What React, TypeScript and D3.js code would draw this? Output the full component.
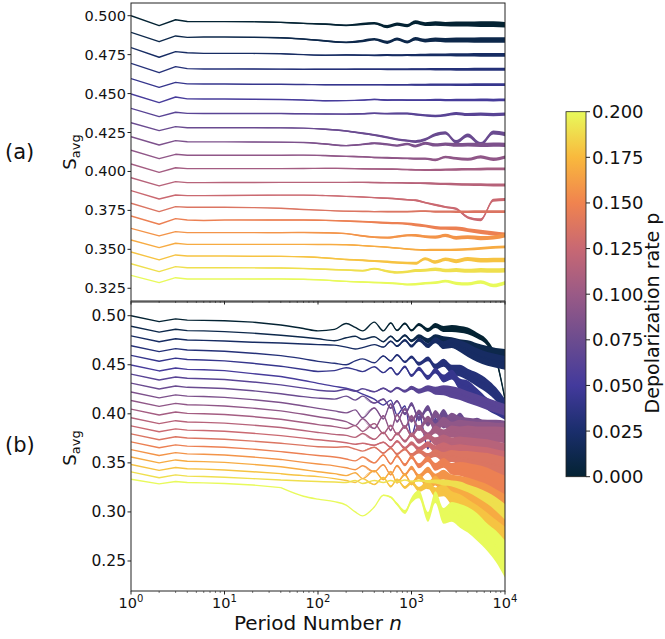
import React from "react";
import * as d3 from "d3";

// ---------- categories ----------
const P_VALUES = [0, 0.0105, 0.0211, 0.0316, 0.0421, 0.0526, 0.0632, 0.0737, 0.0842, 0.0947,
  0.1053, 0.1158, 0.1263, 0.1368, 0.1474, 0.1579, 0.1684, 0.1789, 0.1895, 0.2];

// ---------- panel (a) ----------
const N_A = [1, 2, 3, 4, 6, 10, 20, 40, 70, 120, 200, 300, 400, 550, 700, 900, 1100, 1400, 1800, 2300, 3000, 4000, 5500, 7500, 10000];
const A_00 = [.5000,.4936,.4974,.4963,.4962,.4962,.4961,.4957,.4951,.4946,.4938,.4946,.4952,.4930,.4946,.4936,.4958,.4946,.4950,.4946,.4946,.4946,.4946,.4946,.4942];
const A_01 = [.4893,.4833,.4870,.4861,.4863,.4863,.4862,.4858,.4850,.4838,.4829,.4838,.4848,.4829,.4850,.4831,.4852,.4840,.4846,.4842,.4844,.4844,.4844,.4844,.4844];
const A_02 = [.4795,.4733,.4769,.4762,.4758,.4758,.4758,.4756,.4750,.4746,.4748,.4746,.4745,.4748,.4746,.4748,.4747,.4748,.4748,.4748,.4748,.4748,.4748,.4748,.4748];
const A_03 = [.4694,.4634,.4673,.4660,.4658,.4658,.4658,.4657,.4656,.4656,.4656,.4656,.4656,.4656,.4656,.4656,.4656,.4656,.4656,.4656,.4656,.4656,.4656,.4656,.4656];
const A_04 = [.4596,.4540,.4572,.4562,.4561,.4561,.4560,.4560,.4558,.4557,.4557,.4557,.4557,.4557,.4557,.4557,.4557,.4557,.4557,.4557,.4557,.4557,.4557,.4557,.4557];
const A_05 = [.4497,.4442,.4478,.4466,.4465,.4465,.4464,.4462,.4459,.4454,.4455,.4458,.4462,.4458,.4459,.4458,.4458,.4458,.4459,.4458,.4459,.4458,.4459,.4458,.4459];
const A_06 = [.4405,.4352,.4380,.4373,.4372,.4372,.4372,.4372,.4370,.4369,.4368,.4370,.4374,.4371,.4372,.4372,.4366,.4360,.4356,.4362,.4372,.4365,.4368,.4365,.4368];
const A_07 = [.4313,.4262,.4288,.4281,.4281,.4281,.4281,.4280,.4278,.4271,.4260,.4245,.4234,.4219,.4206,.4198,.4192,.4205,.4236,.4248,.4190,.4232,.4175,.4250,.4240];
const A_08 = [.4223,.4170,.4198,.4191,.4190,.4190,.4189,.4188,.4186,.4176,.4166,.4174,.4181,.4174,.4166,.4176,.4163,.4181,.4170,.4176,.4170,.4172,.4170,.4172,.4170];
const A_09 = [.4136,.4082,.4110,.4104,.4104,.4104,.4104,.4104,.4105,.4102,.4097,.4094,.4090,.4088,.4086,.4084,.4082,.4082,.4074,.4093,.4084,.4078,.4094,.4078,.4092];
const A_10 = [.4048,.3994,.4024,.4018,.4018,.4018,.4018,.4018,.4019,.4020,.4019,.4017,.4016,.4015,.4014,.4012,.4010,.4009,.4010,.4012,.4013,.4014,.4015,.4016,.4016];
const A_11 = [.3960,.3907,.3935,.3928,.3928,.3929,.3929,.3930,.3930,.3930,.3930,.3930,.3929,.3928,.3927,.3926,.3925,.3924,.3922,.3920,.3918,.3916,.3915,.3913,.3913];
const A_12 = [.3877,.3823,.3849,.3845,.3845,.3846,.3847,.3848,.3848,.3845,.3840,.3836,.3832,.3828,.3824,.3818,.3815,.3800,.3785,.3772,.3760,.3705,.3690,.3815,.3820];
const A_13 = [.3796,.3742,.3774,.3770,.3770,.3770,.3768,.3764,.3756,.3750,.3745,.3743,.3742,.3742,.3742,.3742,.3744,.3745,.3742,.3742,.3742,.3742,.3742,.3742,.3742];
const A_14 = [.3714,.3661,.3697,.3688,.3685,.3688,.3688,.3688,.3688,.3686,.3682,.3678,.3674,.3670,.3668,.3664,.3658,.3650,.3640,.3636,.3634,.3624,.3612,.3603,.3595];
const A_15 = [.3635,.3586,.3614,.3607,.3607,.3607,.3607,.3607,.3608,.3606,.3601,.3586,.3578,.3575,.3582,.3590,.3590,.3582,.3578,.3590,.3574,.3578,.3572,.3576,.3590];
const A_16 = [.3560,.3511,.3539,.3532,.3532,.3532,.3532,.3532,.3532,.3531,.3529,.3524,.3519,.3514,.3508,.3502,.3498,.3496,.3496,.3496,.3497,.3500,.3506,.3512,.3516];
const A_17 = [.3483,.3432,.3464,.3457,.3457,.3457,.3456,.3455,.3452,.3445,.3435,.3430,.3425,.3420,.3415,.3412,.3410,.3440,.3418,.3436,.3424,.3438,.3430,.3432,.3432];
const A_18 = [.3408,.3357,.3389,.3382,.3382,.3382,.3381,.3380,.3377,.3372,.3367,.3363,.3376,.3360,.3352,.3356,.3364,.3366,.3372,.3364,.3368,.3362,.3366,.3364,.3366];
const A_19 = [.3333,.3286,.3318,.3310,.3310,.3310,.3310,.3310,.3308,.3302,.3294,.3290,.3287,.3284,.3280,.3274,.3276,.3282,.3286,.3296,.3282,.3278,.3290,.3268,.3285];
const SERIES_A = [A_00, A_01, A_02, A_03, A_04, A_05, A_06, A_07, A_08, A_09, A_10, A_11, A_12, A_13, A_14, A_15, A_16, A_17, A_18, A_19];
// half-thickness of the noisy band along N_A, and its size for each series
const BAND_A_PROFILE = [0, 0, 0, 0, 0, 0, .0001, .0002, .0002, .0003, .0003, .0004, .0004, .0005, .0005, .0005, .0006, .0006, .0007, .0007, .0008, .0008, .0009, .0009, .0009];
const BAND_A_SCALE = [2.0, 2.0, 1.3, 1.1, 1.0, 1.0, 1.2, 1.5, 1.5, 1.2, 1.0, 1.0, 1.0, 1.0, 1.5, 1.5, 1.0, 1.6, 1.6, 1.3];

// ---------- panel (b) ----------
const N_B = [1, 2, 3, 4, 6, 10, 20, 40, 70, 100, 150, 200, 250, 300, 400, 500, 600, 700, 850, 1000, 1200, 1500, 1800, 2200, 2700, 3300, 4000, 5000, 6500, 8000, 10000];
const B_00 = [.5000,.4939,.4968,.4955,.4952,.4948,.4935,.4905,.4870,.4845,.4860,.4920,.4880,.4845,.4935,.4845,.4925,.4850,.4920,.4850,.4910,.4855,.4900,.4865,.4870,.4860,.4845,.4800,.4720,.4560,.4150];
const B_01 = [.4893,.4833,.4862,.4848,.4845,.4838,.4822,.4800,.4780,.4765,.4745,.4775,.4790,.4760,.4785,.4735,.4790,.4740,.4800,.4745,.4790,.4745,.4780,.4750,.4730,.4700,.4680,.4650,.4620,.4600,.4590];
const B_02 = [.4795,.4735,.4765,.4752,.4748,.4742,.4730,.4722,.4712,.4705,.4700,.4680,.4660,.4675,.4705,.4680,.4740,.4690,.4750,.4690,.4755,.4695,.4750,.4700,.4720,.4690,.4650,.4600,.4560,.4540,.4520];
const B_03 = [.4694,.4634,.4664,.4650,.4646,.4638,.4618,.4593,.4560,.4535,.4515,.4500,.4540,.4560,.4520,.4590,.4540,.4600,.4530,.4580,.4510,.4560,.4480,.4520,.4450,.4440,.4400,.4350,.4280,.4200,.4080];
const B_04 = [.4596,.4536,.4568,.4553,.4549,.4540,.4515,.4485,.4452,.4432,.4440,.4470,.4450,.4430,.4480,.4420,.4470,.4400,.4480,.4390,.4460,.4370,.4440,.4360,.4400,.4300,.4280,.4200,.4100,.4050,.4000];
const B_05 = [.4497,.4437,.4467,.4453,.4449,.4440,.4410,.4380,.4340,.4310,.4280,.4260,.4235,.4200,.4150,.4090,.4140,.3990,.4080,.3780,.4000,.3650,.3950,.3600,.3900,.3500,.3800,.3300,.3650,.3200,.3600];
const B_06 = [.4405,.4345,.4375,.4362,.4358,.4350,.4325,.4295,.4262,.4240,.4230,.4250,.4230,.4255,.4225,.4260,.4225,.4265,.4230,.4265,.4230,.4260,.4235,.4240,.4220,.4200,.4170,.4140,.4100,.4070,.4040];
const B_07 = [.4313,.4253,.4283,.4270,.4266,.4258,.4235,.4205,.4175,.4160,.4150,.4180,.4140,.4180,.4110,.4150,.4060,.4130,.4000,.4100,.3950,.4060,.3900,.4000,.3880,.3950,.3870,.3900,.3850,.3870,.3850];
const B_08 = [.4223,.4163,.4193,.4180,.4176,.4168,.4145,.4115,.4080,.4055,.4030,.4010,.4040,.3960,.4060,.3950,.4100,.3920,.4050,.3930,.4020,.3900,.4000,.3900,.3950,.3900,.3880,.3870,.3860,.3860,.3850];
const B_09 = [.4136,.4076,.4106,.4093,.4089,.4080,.4058,.4030,.3995,.3970,.3945,.3920,.3880,.3950,.3850,.3980,.3830,.3990,.3860,.3970,.3850,.3950,.3860,.3920,.3860,.3870,.3850,.3840,.3840,.3830,.3830];
const B_10 = [.4048,.3988,.4018,.4005,.4001,.3993,.3972,.3945,.3912,.3890,.3870,.3850,.3880,.3820,.3900,.3800,.3880,.3790,.3870,.3780,.3860,.3780,.3840,.3790,.3820,.3800,.3800,.3790,.3790,.3790,.3780];
const B_11 = [.3960,.3900,.3930,.3917,.3913,.3905,.3885,.3860,.3830,.3810,.3790,.3780,.3760,.3800,.3740,.3810,.3730,.3800,.3720,.3790,.3720,.3770,.3720,.3740,.3700,.3700,.3680,.3660,.3640,.3620,.3600];
const B_12 = [.3877,.3817,.3847,.3834,.3830,.3822,.3802,.3778,.3752,.3735,.3720,.3705,.3690,.3700,.3680,.3710,.3660,.3720,.3650,.3700,.3640,.3690,.3640,.3660,.3620,.3620,.3600,.3580,.3560,.3540,.3520];
const B_13 = [.3796,.3736,.3766,.3753,.3749,.3741,.3722,.3700,.3678,.3665,.3660,.3665,.3640,.3620,.3660,.3600,.3650,.3590,.3640,.3580,.3620,.3570,.3600,.3560,.3570,.3550,.3540,.3520,.3500,.3480,.3460];
const B_14 = [.3714,.3654,.3684,.3671,.3667,.3659,.3640,.3615,.3590,.3575,.3560,.3540,.3520,.3560,.3500,.3580,.3490,.3570,.3480,.3560,.3470,.3540,.3460,.3500,.3440,.3440,.3420,.3390,.3350,.3310,.3270];
const B_15 = [.3635,.3575,.3605,.3592,.3588,.3580,.3560,.3535,.3505,.3488,.3470,.3450,.3430,.3470,.3410,.3480,.3380,.3470,.3380,.3450,.3360,.3430,.3350,.3380,.3320,.3300,.3270,.3230,.3180,.3130,.3080];
const B_16 = [.3560,.3500,.3530,.3517,.3513,.3505,.3485,.3460,.3430,.3410,.3390,.3370,.3400,.3340,.3420,.3330,.3410,.3300,.3380,.3290,.3360,.3270,.3320,.3240,.3250,.3200,.3150,.3080,.3000,.2920,.2850];
const B_17 = [.3483,.3423,.3453,.3440,.3436,.3428,.3410,.3390,.3370,.3360,.3340,.3320,.3300,.3340,.3280,.3350,.3260,.3330,.3250,.3300,.3230,.3280,.3200,.3220,.3140,.3100,.3040,.2970,.2880,.2800,.2720];
const B_18 = [.3408,.3348,.3378,.3365,.3361,.3353,.3340,.3325,.3315,.3310,.3305,.3300,.3320,.3290,.3320,.3300,.3320,.3305,.3325,.3310,.3320,.3310,.3310,.3300,.3290,.3270,.3240,.3200,.3140,.3080,.3000];
const B_19 = [.3333,.3286,.3310,.3300,.3296,.3290,.3275,.3248,.3160,.3130,.3105,.3070,.3000,.2960,.3050,.3170,.3150,.3080,.3000,.3120,.3180,.2950,.3150,.2960,.3000,.2960,.2920,.2850,.2740,.2650,.2520];
const SERIES_B = [B_00, B_01, B_02, B_03, B_04, B_05, B_06, B_07, B_08, B_09, B_10, B_11, B_12, B_13, B_14, B_15, B_16, B_17, B_18, B_19];
// half-thickness of the dense oscillation band, from n = 300 to 10000 (N_B index 13 onward)
const B_TAIL_START = 13;
const BB_00 = [0,0,0,.0005,.0008,.001,.0012,.0015,.002,.0025,.003,.0035,.0035,.0035,.003,.003,.003,.002];
const BB_01 = [0,0,.0005,.0008,.001,.0012,.0015,.002,.0025,.003,.004,.005,.006,.007,.007,.007,.007,.007];
const BB_02 = [0,0,.0005,.0008,.001,.0012,.0015,.002,.0025,.003,.004,.005,.006,.007,.007,.007,.007,.007];
const BB_03 = [0,0,.0005,.0008,.001,.0012,.0015,.002,.0025,.003,.004,.005,.006,.006,.007,.007,.007,.007];
const BB_04 = [0,0,.0005,.0008,.001,.0012,.0015,.002,.0025,.003,.004,.005,.006,.006,.006,.006,.006,.006];
const BB_05 = [0,0,0,0,0,.0005,.001,.001,.0015,.0015,.002,.002,.002,.002,.002,.002,.002,.002];
const BB_06 = [0,.0005,.0008,.001,.0012,.0015,.002,.0025,.003,.004,.005,.006,.006,.006,.006,.006,.006,.006];
const BB_07 = [0,.0005,.0008,.001,.0012,.0015,.002,.0025,.003,.004,.005,.006,.006,.006,.006,.006,.006,.006];
const BB_08 = [0,.0005,.0008,.001,.0012,.0015,.002,.0025,.003,.004,.005,.006,.007,.008,.008,.008,.008,.008];
const BB_09 = [0,.0005,.0008,.001,.0012,.0015,.002,.0025,.003,.004,.005,.006,.007,.008,.008,.008,.008,.008];
const BB_10 = [0,.0005,.0008,.001,.0012,.0015,.002,.0025,.003,.004,.005,.006,.007,.008,.008,.008,.008,.008];
const BB_11 = [0,.0005,.0008,.001,.0012,.0015,.002,.0025,.003,.004,.005,.006,.007,.008,.009,.010,.010,.010];
const BB_12 = [0,.0005,.0008,.001,.0012,.0015,.002,.0025,.003,.004,.005,.006,.007,.008,.009,.010,.010,.010];
const BB_13 = [0,.0005,.0008,.001,.0012,.0015,.002,.0025,.003,.004,.005,.006,.007,.008,.009,.010,.010,.010];
const BB_14 = [0,.0005,.0008,.001,.0012,.0015,.002,.0025,.003,.004,.005,.006,.007,.008,.009,.010,.010,.010];
const BB_15 = [0,.0005,.0008,.001,.0012,.0015,.002,.0025,.003,.004,.005,.006,.007,.008,.009,.010,.010,.010];
const BB_16 = [0,.0005,.0008,.001,.0012,.0015,.002,.0025,.004,.005,.006,.007,.008,.009,.010,.010,.011,.012];
const BB_17 = [0,.0005,.0008,.001,.0012,.0015,.002,.0025,.004,.005,.006,.007,.008,.009,.010,.011,.012,.013];
const BB_18 = [0,0,0,0,0,0,.0005,.001,.0015,.002,.003,.003,.004,.004,.005,.006,.007,.008];
const BB_19 = [0,0,.0005,.001,.0015,.002,.003,.004,.005,.006,.008,.010,.012,.013,.014,.014,.016,.019];
const BANDS_B = [BB_00, BB_01, BB_02, BB_03, BB_04, BB_05, BB_06, BB_07, BB_08, BB_09, BB_10, BB_11, BB_12, BB_13, BB_14, BB_15, BB_16, BB_17, BB_18, BB_19];

// ---------- ticks ----------
const Y_TICKS_A = [0.325, 0.35, 0.375, 0.4, 0.425, 0.45, 0.475, 0.5];
const Y_TICKS_B = [0.25, 0.3, 0.35, 0.4, 0.45, 0.5];
const X_DECADES = [0, 1, 2, 3, 4];
const CB_TICKS = [0, 0.025, 0.05, 0.075, 0.1, 0.125, 0.15, 0.175, 0.2];

// ---------- colormap (thermal-like) ----------
const CMAP_STOPS = [0, 0.125, 0.25, 0.375, 0.5, 0.625, 0.75, 0.875, 1];
const CMAP_COLORS = ["#042333", "#1a2e6c", "#433a9c", "#6c4c8f", "#9a5a86", "#c86873", "#f0834f", "#f9b93d", "#e8fa5b"];

const FONT = "DejaVu Sans, sans-serif";
const SPLIT = 7; // straight segments up to n = 40, smooth wiggles after

type Pt = { n: number; v: number; b: number };

export default function App() {
  const L = 131, R = 505;
  const aTop = 3, aBot = 301, bTop = 302, bBot = 591;
  const x = d3.scaleLog().domain([1, 1e4]).range([L, R]);
  const yA = d3.scaleLinear().domain([0.31683, 0.50815]).range([aBot, aTop]);
  const yB = d3.scaleLinear().domain([0.21942, 0.51396]).range([bBot, bTop]);
  const cmap = d3.scaleLinear<string>().domain(CMAP_STOPS).range(CMAP_COLORS).interpolate(d3.interpolateRgb);
  const pColor = (p: number) => cmap(p / 0.2);

  const minorTicks: number[] = [];
  for (let d = 0; d < 4; d++) for (let m = 2; m <= 9; m++) minorTicks.push(m * Math.pow(10, d));

  const seriesPath = (ns: number[], vals: number[], ys: d3.ScaleLinear<number, number>) => {
    const pts = vals.map((v, i) => ({ n: ns[i], v }));
    const lin = d3.line<{ n: number; v: number }>().x((d) => x(d.n)).y((d) => ys(d.v));
    const smooth = d3.line<{ n: number; v: number }>().x((d) => x(d.n)).y((d) => ys(d.v)).curve(d3.curveMonotoneX);
    return (lin(pts.slice(0, SPLIT + 1)) || "") + (smooth(pts.slice(SPLIT)) || "");
  };

  const bandPath = (pts: Pt[], ys: d3.ScaleLinear<number, number>) =>
    d3.area<Pt>().x((d) => x(d.n)).y0((d) => ys(d.v - d.b)).y1((d) => ys(d.v + d.b)).curve(d3.curveMonotoneX)(pts) || "";

  const renderA = () =>
    SERIES_A.map((vals, k) => {
      const c = pColor(P_VALUES[k]);
      const pts = vals.map((v, i) => ({ n: N_A[i], v, b: BAND_A_PROFILE[i] * BAND_A_SCALE[k] })).slice(5);
      return (
        <g key={"a" + k}>
          <path d={bandPath(pts, yA)} fill={c} />
          <path d={seriesPath(N_A, vals, yA)} fill="none" stroke={c} strokeWidth={1.4} strokeLinejoin="round" />
        </g>
      );
    });

  const renderB = () =>
    SERIES_B.map((vals, k) => {
      const c = pColor(P_VALUES[k]);
      const pts = BANDS_B[k].map((b, j) => ({ n: N_B[B_TAIL_START + j], v: vals[B_TAIL_START + j], b }));
      return (
        <g key={"b" + k}>
          <path d={bandPath(pts, yB)} fill={c} />
          <path d={seriesPath(N_B, vals, yB)} fill="none" stroke={c} strokeWidth={1.4} strokeLinejoin="round" />
        </g>
      );
    });

  const cbTop = 111.7, cbBot = 476.7, cbL = 566, cbR = 586;
  const yC = d3.scaleLinear().domain([0, 0.2]).range([cbBot, cbTop]);

  return (
    <svg width={665} height={639} style={{ position: "absolute", left: 0, top: 0, background: "#fff" }} fontFamily={FONT}>
      <defs>
        <clipPath id="clipA"><rect x={L} y={aTop} width={R - L} height={aBot - aTop} /></clipPath>
        <clipPath id="clipB"><rect x={L} y={bTop} width={R - L} height={bBot - bTop} /></clipPath>
        <linearGradient id="cbGrad" x1="0" y1="1" x2="0" y2="0">
          {CMAP_STOPS.map((s, i) => (
            <stop key={i} offset={s} stopColor={CMAP_COLORS[i]} />
          ))}
        </linearGradient>
      </defs>

      {/* panel a */}
      <g clipPath="url(#clipA)">{renderA()}</g>
      <rect x={L} y={aTop} width={R - L} height={aBot - aTop} fill="none" stroke="#222" strokeWidth={1} />
      {Y_TICKS_A.map((t) => (
        <g key={"ya" + t}>
          <line x1={L - 3.5} x2={L} y1={yA(t)} y2={yA(t)} stroke="#222" />
          <text x={L - 5} y={yA(t)} textAnchor="end" dominantBaseline="central" fontSize={14.5} fill="#111">{t.toFixed(3)}</text>
        </g>
      ))}
      {X_DECADES.map((d) => (
        <line key={"xa" + d} x1={x(Math.pow(10, d))} x2={x(Math.pow(10, d))} y1={aBot} y2={aBot + 3.5} stroke="#222" />
      ))}
      {minorTicks.map((t) => (
        <line key={"xam" + t} x1={x(t)} x2={x(t)} y1={aBot} y2={aBot + 2} stroke="#222" strokeWidth={0.6} />
      ))}

      {/* panel b */}
      <g clipPath="url(#clipB)">{renderB()}</g>
      <rect x={L} y={bTop} width={R - L} height={bBot - bTop} fill="none" stroke="#222" strokeWidth={1} />
      {Y_TICKS_B.map((t) => (
        <g key={"yb" + t}>
          <line x1={L - 3.5} x2={L} y1={yB(t)} y2={yB(t)} stroke="#222" />
          <text x={L - 5} y={yB(t)} textAnchor="end" dominantBaseline="central" fontSize={15.5} fill="#111">{t.toFixed(2)}</text>
        </g>
      ))}
      {X_DECADES.map((d) => (
        <g key={"xb" + d}>
          <line x1={x(Math.pow(10, d))} x2={x(Math.pow(10, d))} y1={bBot} y2={bBot + 3.5} stroke="#222" />
          <text x={x(Math.pow(10, d))} y={608} textAnchor="middle" fontSize={14.5} fill="#111">
            10<tspan fontSize={10} dy={-6}>{d}</tspan>
          </text>
        </g>
      ))}
      {minorTicks.map((t) => (
        <line key={"xbm" + t} x1={x(t)} x2={x(t)} y1={bBot} y2={bBot + 2} stroke="#222" strokeWidth={0.6} />
      ))}
      <text x={(L + R) / 2} y={630} textAnchor="middle" fontSize={20} fill="#111">
        Period Number <tspan fontStyle="italic">n</tspan>
      </text>

      {/* y labels and panel tags */}
      <text transform="translate(75.5,152) rotate(-90)" textAnchor="middle" fontSize={18} fill="#111">
        S<tspan fontSize={13} dy={4}>avg</tspan>
      </text>
      <text transform="translate(75.5,448) rotate(-90)" textAnchor="middle" fontSize={18} fill="#111">
        S<tspan fontSize={13} dy={4}>avg</tspan>
      </text>
      <text x={5} y={159} fontSize={21} fill="#111">(a)</text>
      <text x={5} y={452} fontSize={21} fill="#111">(b)</text>

      {/* colorbar */}
      <rect x={cbL} y={cbTop} width={cbR - cbL} height={cbBot - cbTop} fill="url(#cbGrad)" stroke="#222" strokeWidth={0.8} />
      {CB_TICKS.map((t) => (
        <g key={"cb" + t}>
          <line x1={cbR} x2={cbR + 4} y1={yC(t)} y2={yC(t)} stroke="#222" />
          <text x={cbR + 6} y={yC(t)} dominantBaseline="central" fontSize={18} fill="#111">{t.toFixed(3)}</text>
        </g>
      ))}
      <text transform="translate(659,313) rotate(-90)" textAnchor="middle" fontSize={19} fill="#111">Depolarization rate p</text>
    </svg>
  );
}
